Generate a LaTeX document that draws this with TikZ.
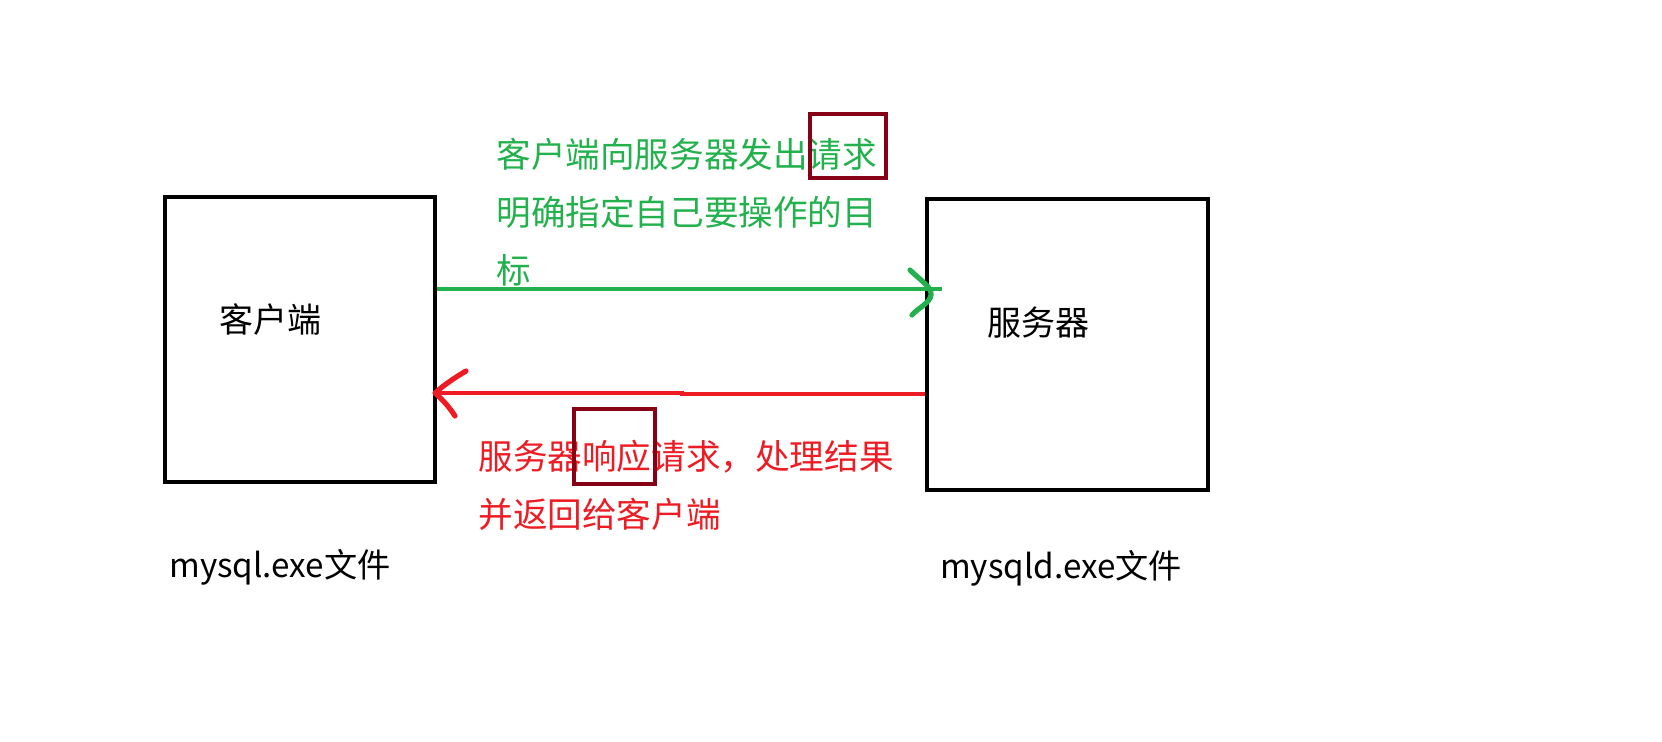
\documentclass[tikz,border=0pt]{standalone}
\usepackage{fontspec}
\setmainfont{Noto Sans CJK SC}
\definecolor{pgreen}{HTML}{22B14C}
\definecolor{pred}{HTML}{ED1C24}
\definecolor{pmaroon}{HTML}{880015}
\tikzset{
  box/.style={draw=black, line width=2pt, minimum width=135pt, minimum height=142.5pt, inner sep=0pt},
  hl/.style={draw=pmaroon, line width=2pt, inner sep=0pt},
  lbl/.style={inner sep=0pt, font=\fontsize{17}{20}\selectfont},
  flbl/.style={inner sep=0pt, font=\fontsize{16.6}{20}\selectfont},
  para/.style={inner sep=0pt, align=left, anchor=north west, font=\fontsize{17.3}{29}\selectfont},
  conn/.style={line width=2pt},
  chev/.style={line width=2.6pt, line cap=round, line join=round}
}
\begin{document}
\begin{tikzpicture}[x=0.5pt,y=-0.5pt]
\useasboundingbox (0,0) rectangle (1662,741);
% boxes
\node[box] (client) at (300,339.5) {};
\node[box, minimum width=140.5pt, minimum height=145.5pt] (server) at (1067.5,344.5) {};
\node[lbl] (clientlbl) at (270,320) {客户端};
\node[lbl] (serverlbl) at (1038,323) {服务器};
\node[flbl] (clientfile) at (280,567) {mysql.exe文件};
\node[flbl] (serverfile) at (1061,568) {mysqld.exe文件};
% request
\node[para, text=pgreen] (reqtext) at (496,138) {客户端向服务器发出请求\\明确指定自己要操作的目\\标};
\node[hl, minimum width=38pt, minimum height=32pt] (hl1) at (848,146) {};
\coordinate (gEnd) at (942,289);
\draw[conn, pgreen] (client.east |- gEnd) -- (gEnd);
\draw[chev, pgreen] (910,270) .. controls (920,280) and (932,287) .. (931,295) .. controls (930,303) and (918,308) .. (912,315);
% response
\node[para, text=pred] (resptext) at (478,440) {服务器响应请求，处理结果\\并返回给客户端};
\node[hl, minimum width=40.5pt, minimum height=37.5pt] (hl2) at (614,446) {};
\coordinate (rY) at (0,394);
\coordinate (rStep) at (682,393);
\draw[conn, pred] (server.west |- rY) -- (rStep |- rY) -- (rStep) -- (client.east |- rStep);
\draw[chev, pred] (466,371) .. controls (456,377) and (445,384) .. (435,393) .. controls (443,400) and (450,408) .. (455,416);
\end{tikzpicture}
\end{document}
